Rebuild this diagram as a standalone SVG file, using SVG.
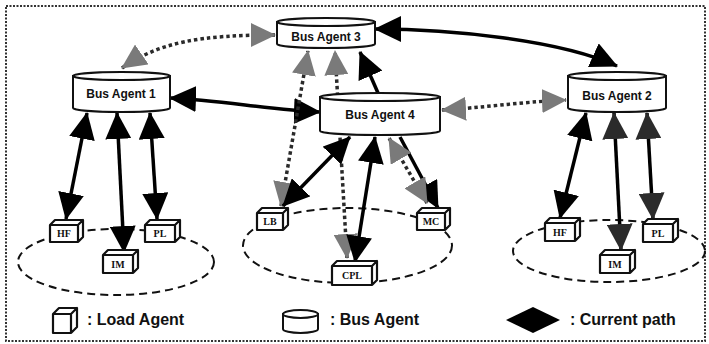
<svg xmlns="http://www.w3.org/2000/svg" width="709" height="344" viewBox="0 0 709 344">
<style>
.bg{fill:#fff}
.frame{fill:none;stroke:#333;stroke-width:2;stroke-dasharray:2 1.5}
.grp{fill:none;stroke:#111;stroke-width:2;stroke-dasharray:8 5}
.cyl{fill:#fff;stroke:#111;stroke-width:2}
.cube{fill:#fff;stroke:#111;stroke-width:2.2;stroke-linejoin:round}
.ba{font-family:"Liberation Sans",Arial,sans-serif;font-weight:bold;font-size:12px;text-anchor:middle;fill:#111}
.la{font-family:"Liberation Serif","Times New Roman",serif;font-weight:bold;font-size:10px;text-anchor:middle;fill:#111}
.lg{font-family:"Liberation Sans",Arial,sans-serif;font-weight:bold;font-size:16px;fill:#111}
.cur{fill:none;stroke:#000;stroke-width:3.5}
.dot{fill:none;stroke:#2a2a2a;stroke-width:3.5;stroke-dasharray:3.5 3}
</style>
<defs>
<marker id="hb" markerUnits="userSpaceOnUse" markerWidth="27" markerHeight="26" refX="26" refY="13" orient="auto-start-reverse" viewBox="0 0 27 26"><path d="M0,0 L27,13 L0,26 z" fill="#000"/></marker>
<marker id="hd" markerUnits="userSpaceOnUse" markerWidth="27" markerHeight="26" refX="26" refY="13" orient="auto-start-reverse" viewBox="0 0 27 26"><path d="M0,0 L27,13 L0,26 z" fill="#2b2b2b"/></marker>
<marker id="hg" markerUnits="userSpaceOnUse" markerWidth="25" markerHeight="24" refX="24" refY="12" orient="auto-start-reverse" viewBox="0 0 25 24"><path d="M0,0 L25,12 L0,24 z" fill="#7a7a7a"/></marker>
</defs>
<rect class="bg" x="0" y="0" width="709" height="344"/>
<rect class="frame" x="6" y="6" width="699" height="335"/>
<g id="groups">
<ellipse class="grp" cx="116" cy="262" rx="98" ry="33"/>
<ellipse class="grp" cx="347.5" cy="245.5" rx="104.5" ry="37.5"/>
<ellipse class="grp" cx="609" cy="251" rx="96" ry="31"/>
</g>
<g id="connectors">
<path class="dot" d="M122,68 C160,42 200,35 275,35" marker-start="url(#hg)" marker-end="url(#hg)"/>
<path class="cur" d="M375,29 C450,29 560,40 617,66" marker-start="url(#hb)" marker-end="url(#hb)"/>
<path class="cur" d="M378,93 L360,52" marker-end="url(#hb)"/>
<path class="cur" d="M170,98 C220,100 270,110 320,112" marker-start="url(#hb)" marker-end="url(#hb)"/>
<path class="dot" d="M442,110 C480,108 520,102 566,100" marker-start="url(#hg)" marker-end="url(#hg)"/>
<path class="dot" d="M281,206 L308,51" marker-start="url(#hg)" marker-end="url(#hg)"/>
<path class="dot" d="M347,258 L335,51" marker-start="url(#hg)" marker-end="url(#hg)"/>
<path class="cur" d="M283,206 L350,137" marker-start="url(#hb)" marker-end="url(#hb)"/>
<path class="cur" d="M355,262 L375,137" marker-start="url(#hb)" marker-end="url(#hb)"/>
<path class="cur" d="M400,137 L438,208" marker-end="url(#hb)"/>
<path class="dot" d="M427,203 L389,138" marker-start="url(#hg)" marker-end="url(#hg)"/>
<path class="cur" d="M66,219 L87,113" marker-start="url(#hb)" marker-end="url(#hb)"/>
<path class="cur" d="M124,252 L117,113" marker-start="url(#hb)" marker-end="url(#hb)"/>
<path class="cur" d="M157,219 L150,113" marker-start="url(#hb)" marker-end="url(#hb)"/>
<path class="cur" d="M560,218 L586,113" marker-start="url(#hb)" marker-end="url(#hb)"/>
<path class="cur" d="M621,250 L614,113" marker-start="url(#hd)" marker-end="url(#hd)"/>
<path class="cur" d="M653,219 L647,113" marker-start="url(#hd)" marker-end="url(#hd)"/>
</g>
<g id="bus-agent-1">
<path class="cyl" d="M73,76 V108 A48.5,4 0 0 0 170,108 V76 Z"/>
<ellipse class="cyl" cx="121.5" cy="76" rx="48.5" ry="4"/>
<text class="ba" x="121" y="98">Bus Agent 1</text>
</g>
<g id="bus-agent-3">
<path class="cyl" d="M277,22 V44 A49,4 0 0 0 375,44 V22 Z"/>
<ellipse class="cyl" cx="326" cy="22" rx="49" ry="4"/>
<text class="ba" x="326" y="41">Bus Agent 3</text>
</g>
<g id="bus-agent-4">
<path class="cyl" d="M320,97 V131 A60,4 0 0 0 440,131 V97 Z"/>
<ellipse class="cyl" cx="380" cy="97" rx="60" ry="4"/>
<text class="ba" x="380" y="119">Bus Agent 4</text>
</g>
<g id="bus-agent-2">
<path class="cyl" d="M568,76 V108 A49,4 0 0 0 666,108 V76 Z"/>
<ellipse class="cyl" cx="617" cy="76" rx="49" ry="4"/>
<text class="ba" x="617" y="100">Bus Agent 2</text>
</g>
<g id="load-hf-1">
<path class="cube" d="M50,225 h28 v17 h-28 z l5,-5 h28 l-5,5 l5,-5 v17 l-5,5"/>
<text class="la" x="64" y="237" font-size="8">HF</text>
</g>
<g id="load-im-1">
<path class="cube" d="M103,255 h30 v18 h-30 z l5,-5 h30 l-5,5 l5,-5 v18 l-5,5"/>
<text class="la" x="118" y="267.5">IM</text>
</g>
<g id="load-pl-1">
<path class="cube" d="M145,225 h30 v17 h-30 z l5,-5 h30 l-5,5 l5,-5 v17 l-5,5"/>
<text class="la" x="160" y="237">PL</text>
</g>
<g id="load-lb">
<path class="cube" d="M257,213 h26 v17 h-26 z l5,-5 h26 l-5,5 l5,-5 v17 l-5,5"/>
<text class="la" x="270" y="225">LB</text>
</g>
<g id="load-mc">
<path class="cube" d="M417,213 h28 v17 h-28 z l5,-5 h28 l-5,5 l5,-5 v17 l-5,5"/>
<text class="la" x="431" y="225">MC</text>
</g>
<g id="load-cpl">
<path class="cube" d="M332,266 h40 v19 h-40 z l5,-5 h40 l-5,5 l5,-5 v19 l-5,5"/>
<text class="la" x="352" y="279">CPL</text>
</g>
<g id="load-hf-2">
<path class="cube" d="M545,223 h30 v18 h-30 z l5,-5 h30 l-5,5 l5,-5 v18 l-5,5"/>
<text class="la" x="560" y="235.5" font-size="8">HF</text>
</g>
<g id="load-im-2">
<path class="cube" d="M600,255 h30 v18 h-30 z l5,-5 h30 l-5,5 l5,-5 v18 l-5,5"/>
<text class="la" x="615" y="267.5">IM</text>
</g>
<g id="load-pl-2">
<path class="cube" d="M643,224 h30 v18 h-30 z l5,-5 h30 l-5,5 l5,-5 v18 l-5,5"/>
<text class="la" x="658" y="236.5">PL</text>
</g>
<g id="legend">
<path class="cube" d="M53,314 h18 v19 h-18 z l6,-6 h18 l-6,6 l6,-6 v19 l-6,6"/>
<text class="lg" x="87" y="325">: Load Agent</text>
<path class="cyl" d="M283,314 V329 A17.5,4 0 0 0 318,329 V314 Z"/>
<ellipse class="cyl" cx="300.5" cy="314" rx="17.5" ry="4"/>
<text class="lg" x="330" y="325">: Bus Agent</text>
<polygon points="506,320 533,307 560,320 533,333" fill="#000"/>
<text class="lg" x="570" y="325">: Current path</text>
</g>
</svg>
